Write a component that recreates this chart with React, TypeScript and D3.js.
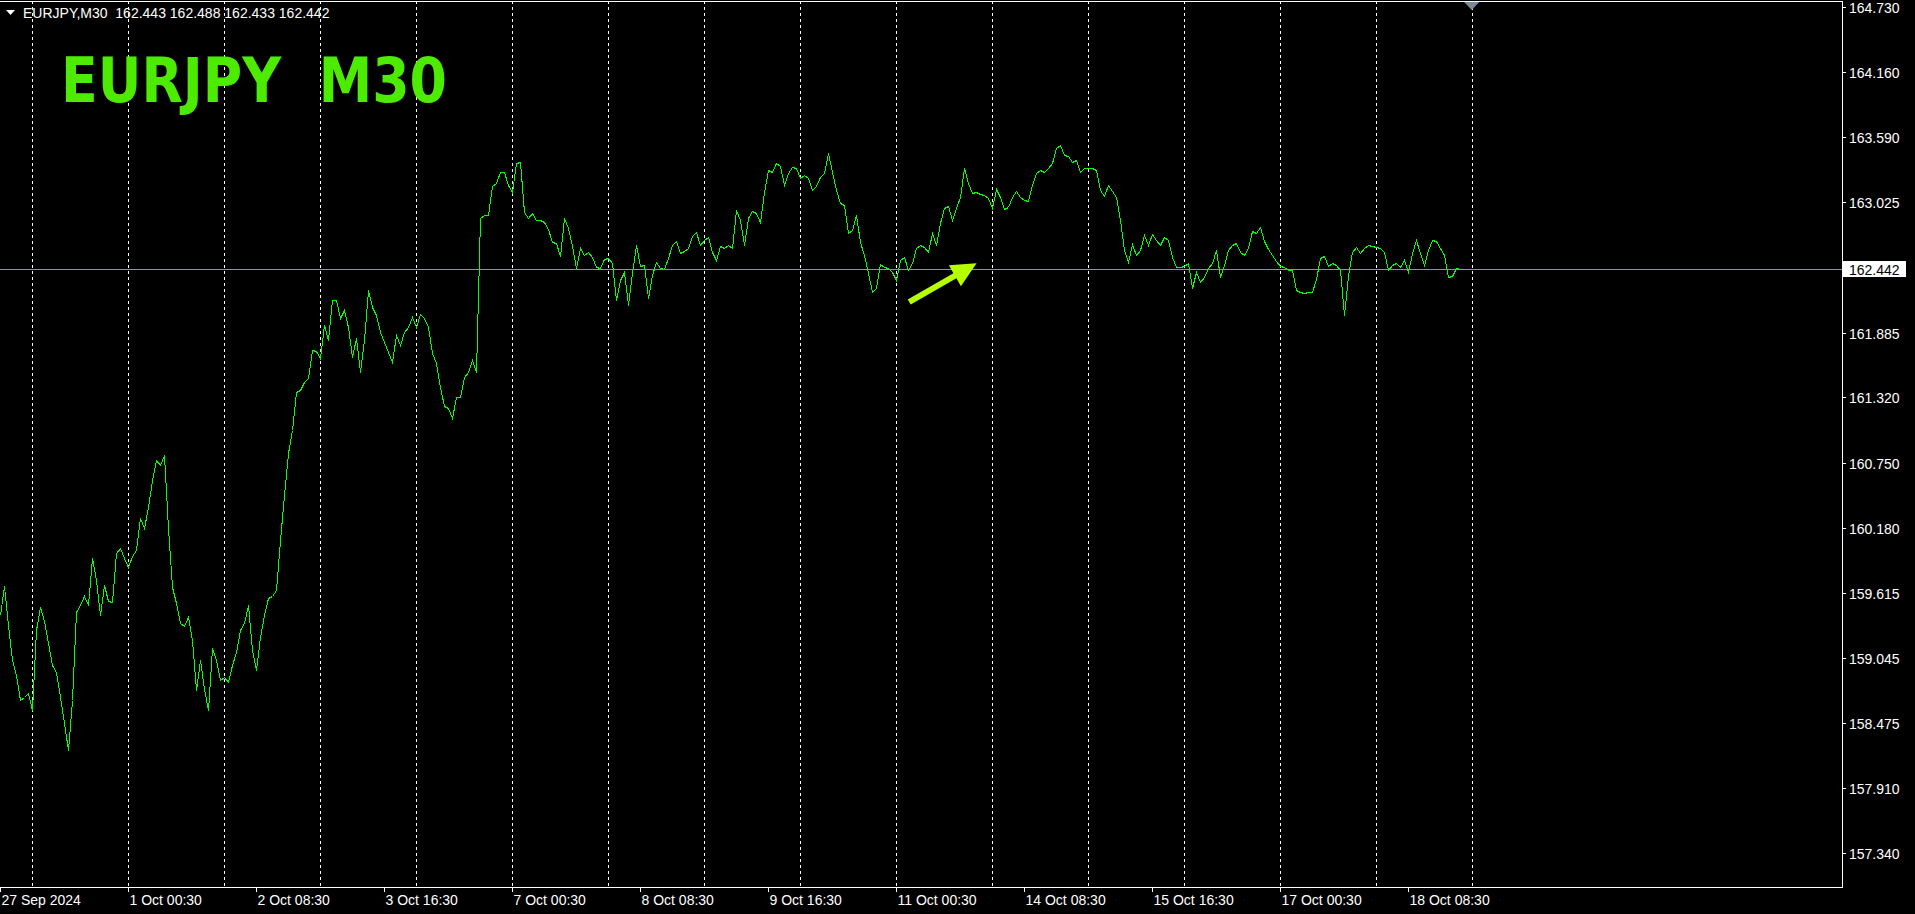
import React from 'react';
import * as d3 from 'd3';

// ---------- data ----------
// Close prices of EURJPY M30, one value every 2 bars (starting 27 Sep 2024)
const closes: number[] = [
  159.419, 159.673, 159.331, 159.026, 158.894, 158.676, 158.703, 158.738, 158.589, 159.288, 159.489, 159.366, 159.175, 158.982, 158.921, 158.703,
  158.476, 158.240, 158.676, 159.446, 159.506, 159.585, 159.506, 159.917, 159.725, 159.419, 159.681, 159.541, 159.533, 159.961, 160.004, 159.917,
  159.838, 159.935, 159.987, 160.266, 160.179, 160.362, 160.598, 160.773, 160.729, 160.816, 160.179, 159.664, 159.524, 159.349, 159.323, 159.402,
  159.201, 158.764, 159.026, 158.772, 158.589, 159.131, 159.026, 158.851, 158.877, 158.834, 158.982, 159.096, 159.288, 159.349, 159.506, 159.113,
  158.938, 159.227, 159.419, 159.567, 159.585, 159.637, 160.074, 160.467, 160.834, 161.035, 161.367, 161.384, 161.455, 161.489, 161.734, 161.725,
  161.664, 161.952, 161.821, 162.170, 162.170, 162.013, 162.083, 161.935, 161.673, 161.838, 161.542, 161.821, 162.258, 162.109, 162.039, 161.891,
  161.804, 161.717, 161.629, 161.864, 161.777, 161.891, 161.935, 162.022, 161.935, 162.048, 162.013, 161.935, 161.708, 161.620, 161.411, 161.245,
  161.227, 161.140, 161.323, 161.323, 161.498, 161.542, 161.646, 161.542, 162.887, 162.913, 162.913, 163.167, 163.193, 163.289, 163.289, 163.175,
  163.114, 163.367, 163.376, 162.940, 162.887, 162.931, 162.869, 162.869, 162.852, 162.790, 162.678, 162.669, 162.555, 162.887, 162.799, 162.643,
  162.450, 162.625, 162.563, 162.590, 162.546, 162.459, 162.450, 162.528, 162.537, 162.494, 162.170, 162.345, 162.415, 162.126, 162.406, 162.651,
  162.468, 162.476, 162.188, 162.388, 162.503, 162.450, 162.441, 162.537, 162.651, 162.686, 162.581, 162.598, 162.625, 162.730, 162.765, 162.651,
  162.695, 162.721, 162.590, 162.520, 162.643, 162.625, 162.651, 162.625, 162.957, 162.869, 162.651, 162.887, 162.948, 162.931, 162.852, 163.114,
  163.306, 163.289, 163.367, 163.341, 163.175, 163.280, 163.332, 163.324, 163.236, 163.262, 163.236, 163.131, 163.167, 163.245, 163.280, 163.455,
  163.289, 163.131, 163.018, 163.000, 162.756, 162.782, 162.913, 162.678, 162.563, 162.406, 162.241, 162.275, 162.485, 162.459, 162.450, 162.415,
  162.345, 162.520, 162.546, 162.432, 162.494, 162.625, 162.651, 162.634, 162.590, 162.756, 162.651, 162.843, 162.974, 162.992, 162.869, 162.974,
  163.070, 163.324, 163.193, 163.105, 163.114, 163.096, 163.087, 163.061, 162.974, 163.140, 163.070, 162.965, 162.983, 163.070, 163.122, 163.070,
  163.044, 163.035, 163.175, 163.280, 163.306, 163.289, 163.324, 163.367, 163.498, 163.524, 163.437, 163.428, 163.376, 163.393, 163.289, 163.324,
  163.324, 163.324, 163.306, 163.131, 163.079, 163.175, 163.122, 163.070, 162.869, 162.607, 162.503, 162.660, 162.563, 162.607, 162.739, 162.651,
  162.747, 162.695, 162.651, 162.721, 162.695, 162.546, 162.459, 162.459, 162.468, 162.494, 162.275, 162.415, 162.328, 162.371, 162.450, 162.494,
  162.607, 162.371, 162.476, 162.607, 162.651, 162.669, 162.590, 162.563, 162.625, 162.773, 162.756, 162.808, 162.686, 162.616, 162.563, 162.511,
  162.468, 162.459, 162.432, 162.432, 162.258, 162.241, 162.232, 162.241, 162.241, 162.354, 162.537, 162.555, 162.468, 162.494, 162.476, 162.432,
  162.039, 162.380, 162.590, 162.634, 162.581, 162.625, 162.651, 162.643, 162.634, 162.625, 162.590, 162.432, 162.476, 162.494, 162.459, 162.520,
  162.415, 162.581, 162.695, 162.581, 162.476, 162.607, 162.695, 162.686, 162.625, 162.563, 162.371, 162.380, 162.450, 162.441, 162.442,
];
const barsPerSample = 2;

const timeLabels = [
  '27 Sep 2024', '1 Oct 00:30', '2 Oct 08:30', '3 Oct 16:30', '7 Oct 00:30', '8 Oct 08:30',
  '9 Oct 16:30', '11 Oct 00:30', '14 Oct 08:30', '15 Oct 16:30', '17 Oct 00:30', '18 Oct 08:30',
];
const timeLabelBars = [0, 64, 128, 192, 256, 320, 384, 448, 512, 576, 640, 704];
const gridBars = [15.85, 63.85, 111.85, 159.85, 207.85, 255.85, 303.85, 351.85, 399.85, 447.85, 495.85, 543.85, 591.85, 639.85, 687.85, 735.85];
const priceTicks = [164.730, 164.160, 163.590, 163.025, 161.885, 161.320, 160.750, 160.180, 159.615, 159.045, 158.475, 157.910, 157.340];
const lastPrice = 162.442;
const shiftMarkerBar = 735.85;
const headerText = 'EURJPY,M30  162.443 162.488 162.433 162.442';
const titleText = 'EURJPY  M30';
const arrowFrom = { bar: 454.6, price: 162.153 };
const arrowTo = { bar: 488.3, price: 162.491 };

// ---------- component ----------
const W = 1915;
const H = 914;
const FONT = '"Liberation Sans", Arial, sans-serif';

export default function App() {
  const plotLeft = 0;
  const plotRight = 1842;
  const plotTop = 1;
  const plotBottom = 887;

  const x = d3.scaleLinear().domain([0, 921]).range([plotLeft, plotRight]);
  const y = d3.scaleLinear().domain([157.043, 164.791]).range([plotBottom, 0]);

  const linePath = d3
    .line<number>()
    .x((_, i) => x(i * barsPerSample) + 0.5)
    .y((d) => Math.round(y(d)) + 0.5)(closes) as string;

  // arrow geometry
  const ax0 = x(arrowFrom.bar), ay0 = y(arrowFrom.price);
  const ax1 = x(arrowTo.bar), ay1 = y(arrowTo.price);
  const dx = ax1 - ax0, dy = ay1 - ay0;
  const len = Math.sqrt(dx * dx + dy * dy);
  const ux = dx / len, uy = dy / len;
  const px = -uy, py = ux;
  const headLen = 25, headHalf = 12, shaftHalf = 3;
  const bx = ax1 - ux * headLen, by = ay1 - uy * headLen;
  const arrowPts = [
    [ax0 + px * shaftHalf, ay0 + py * shaftHalf],
    [bx + px * shaftHalf, by + py * shaftHalf],
    [bx + px * headHalf, by + py * headHalf],
    [ax1, ay1],
    [bx - px * headHalf, by - py * headHalf],
    [bx - px * shaftHalf, by - py * shaftHalf],
    [ax0 - px * shaftHalf, ay0 - py * shaftHalf],
  ].map((p) => p.join(',')).join(' ');

  const lastY = Math.round(y(lastPrice)) + 0.5;
  const markerX = x(shiftMarkerBar);

  return (
    <div style={{ position: 'fixed', left: 0, top: 0, width: W, height: H, background: '#000' }}>
      <svg width={W} height={H} style={{ display: 'block', background: '#000' }}>
        {/* vertical dashed grid */}
        {gridBars.map((b) => (
          <line
            key={'g' + b}
            x1={Math.round(x(b)) + 0.5}
            x2={Math.round(x(b)) + 0.5}
            y1={plotTop}
            y2={plotBottom}
            stroke="#ffffff"
            strokeWidth={1}
            strokeDasharray="3,3"
            shapeRendering="crispEdges"
          />
        ))}

        {/* current price line */}
        <line x1={plotLeft} x2={plotRight} y1={lastY} y2={lastY} stroke="#8b949e" strokeWidth={1} shapeRendering="crispEdges" />

        {/* price line */}
        <path d={linePath} fill="none" stroke="#00ff00" strokeWidth={1} shapeRendering="crispEdges" />

        {/* arrow annotation */}
        <polygon points={arrowPts} fill="#b6ff00" />

        {/* frame */}
        <line x1={0} x2={plotRight + 0.5} y1={plotTop + 0.5} y2={plotTop + 0.5} stroke="#fff" shapeRendering="crispEdges" />
        <line x1={plotRight + 0.5} x2={plotRight + 0.5} y1={plotTop} y2={plotBottom + 0.5} stroke="#fff" shapeRendering="crispEdges" />
        <line x1={0} x2={plotRight + 0.5} y1={plotBottom + 0.5} y2={plotBottom + 0.5} stroke="#fff" shapeRendering="crispEdges" />

        {/* chart shift marker */}
        <polygon
          points={`${markerX - 7.5},${plotTop + 1} ${markerX + 7.5},${plotTop + 1} ${markerX},${plotTop + 9}`}
          fill="#7a8a9b"
        />

        {/* y axis ticks & labels */}
        {priceTicks.map((p) => {
          const yy = Math.round(y(p)) + 0.5;
          return (
            <g key={'p' + p}>
              <line x1={plotRight} x2={plotRight + 4} y1={yy} y2={yy} stroke="#fff" shapeRendering="crispEdges" />
              <text x={1849} y={yy + 5} fill="#fff" fontFamily={FONT} fontSize={14}>
                {p.toFixed(3)}
              </text>
            </g>
          );
        })}

        {/* last price label */}
        <rect x={plotRight + 1} y={lastY - 8.5} width={63} height={16} fill="#fff" />
        <text x={1849} y={lastY + 5} fill="#000" fontFamily={FONT} fontSize={14}>
          {lastPrice.toFixed(3)}
        </text>

        {/* x axis ticks & labels */}
        {timeLabels.map((t, i) => {
          const xx = Math.round(x(timeLabelBars[i])) + 0.5;
          return (
            <g key={'t' + i}>
              <line x1={xx} x2={xx} y1={plotBottom} y2={plotBottom + 5} stroke="#fff" shapeRendering="crispEdges" />
              <text x={xx + 1} y={905} fill="#fff" fontFamily={FONT} fontSize={14}>
                {t}
              </text>
            </g>
          );
        })}

        {/* header */}
        <polygon points="6,10 15,10 10.5,15" fill="#fff" />
        <text x={23} y={18} fill="#fff" fontFamily={FONT} fontSize={14} style={{ whiteSpace: 'pre' }}>
          {headerText}
        </text>

        {/* big title */}
        <text
          x={61}
          y={102}
          fill="#4deb00"
          fontFamily='"DejaVu Sans", Verdana, sans-serif'
          fontWeight="bold"
          fontSize={62}
          textLength={386}
          lengthAdjust="spacingAndGlyphs"
          style={{ whiteSpace: 'pre' }}
        >
          {titleText}
        </text>
      </svg>
    </div>
  );
}
